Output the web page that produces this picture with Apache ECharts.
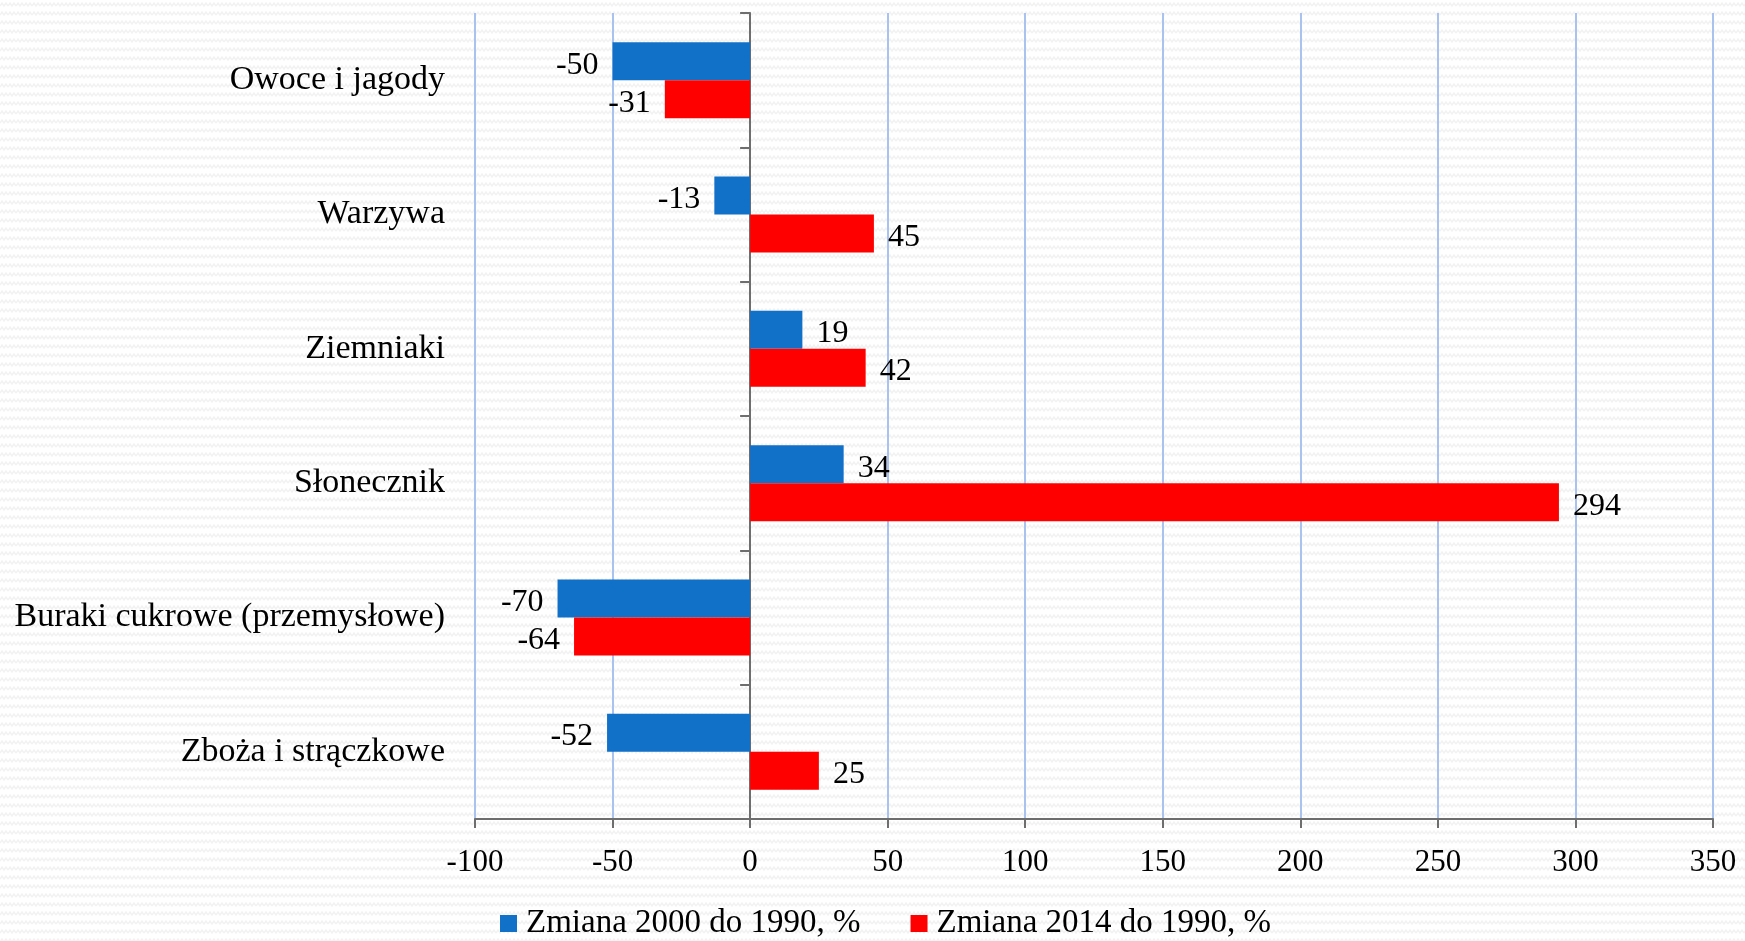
<!DOCTYPE html>
<html>
<head>
<meta charset="utf-8">
<script src="https://cdn.jsdelivr.net/npm/echarts@6/dist/echarts.min.js"></script>
<style>
  html, body {
    margin: 0;
    padding: 0;
  }
  body {
    background-color: #ffffff;
    background-image: url("data:image/svg+xml;utf8,<svg xmlns='http://www.w3.org/2000/svg' width='8' height='9'><polyline points='0,6 2,3 4,6 6,3 8,6' fill='none' stroke='%23f2f2f2' stroke-width='1.4'/></svg>");
  }
  #barChart {
    width: 1745px;
    height: 941px;
  }
</style>
</head>
<body>
<div id="barChart"></div>
<script>
// kategorie od góry do dołu
const categories = [
  "Owoce i jagody",
  "Warzywa",
  "Ziemniaki",
  "Słonecznik",
  "Buraki cukrowe (przemysłowe)",
  "Zboża i strączkowe"
];
const seriesNames = ["Zmiana 2000 do 1990, %", "Zmiana 2014 do 1990, %"];
const zmiana2000 = [-50, -13, 19, 34, -70, -52];
const zmiana2014 = [-31, 45, 42, 294, -64, 25];
const xTicks = { min: -100, max: 350, step: 50 };

const font = "Liberation Serif";
const axisGray = "#6e6e6e";

function withLabels(values) {
  // etykieta po stronie końca słupka
  return values.map(function (v) {
    return {
      value: v,
      label: { position: v < 0 ? "left" : "right" }
    };
  });
}

let chart = echarts.init(document.getElementById("barChart"));

let option = {
  backgroundColor: "transparent",
  animation: false,
  textStyle: { fontFamily: font },
  grid: {
    left: 475,
    right: 32,
    top: 13,
    bottom: 122
  },
  legend: {
    left: 500,
    top: 907,
    padding: 0,
    icon: "rect",
    itemWidth: 17,
    itemHeight: 17,
    itemGap: 50,
    textStyle: {
      fontFamily: font,
      fontSize: 33,
      color: "#000",
      padding: [0, 0, 0, 4]
    },
    data: seriesNames
  },
  xAxis: {
    type: "value",
    min: xTicks.min,
    max: xTicks.max,
    interval: xTicks.step,
    position: "bottom",
    axisLine: {
      show: true,
      onZero: false,
      lineStyle: { color: axisGray, width: 2 }
    },
    axisTick: {
      show: true,
      length: 9,
      lineStyle: { color: axisGray, width: 2 }
    },
    axisLabel: {
      margin: 28,
      fontFamily: font,
      fontSize: 31,
      color: "#000"
    },
    splitLine: {
      show: true,
      lineStyle: { color: "#aac2ef", width: 2 }
    }
  },
  yAxis: [
    {
      // oś na zerze, tylko linia i kreski
      type: "category",
      position: "left",
      inverse: true,
      data: categories,
      axisLine: {
        show: true,
        onZero: true,
        lineStyle: { color: axisGray, width: 2 }
      },
      axisTick: {
        show: true,
        length: 10,
        lineStyle: { color: axisGray, width: 2 }
      },
      axisLabel: { show: false },
      splitLine: { show: false }
    },
    {
      // podpisy kategorii po lewej
      type: "category",
      position: "left",
      offset: 0,
      inverse: true,
      data: categories,
      axisLine: { show: false },
      axisTick: { show: false },
      axisLabel: {
        margin: 30,
        fontFamily: font,
        fontSize: 34,
        color: "#000"
      },
      splitLine: { show: false }
    }
  ],
  series: [
    {
      name: seriesNames[0],
      type: "bar",
      yAxisIndex: 0,
      barWidth: 38,
      barGap: "0%",
      itemStyle: { color: "#1170c8" },
      label: {
        show: true,
        distance: 14,
        offset: [0, 4],
        fontFamily: font,
        fontSize: 32,
        color: "#000"
      },
      data: withLabels(zmiana2000)
    },
    {
      name: seriesNames[1],
      type: "bar",
      yAxisIndex: 0,
      barWidth: 38,
      barGap: "0%",
      itemStyle: { color: "#ff0000" },
      label: {
        show: true,
        distance: 14,
        offset: [0, 4],
        fontFamily: font,
        fontSize: 32,
        color: "#000"
      },
      data: withLabels(zmiana2014)
    }
  ]
};

chart.setOption(option);
</script>
</body>
</html>
